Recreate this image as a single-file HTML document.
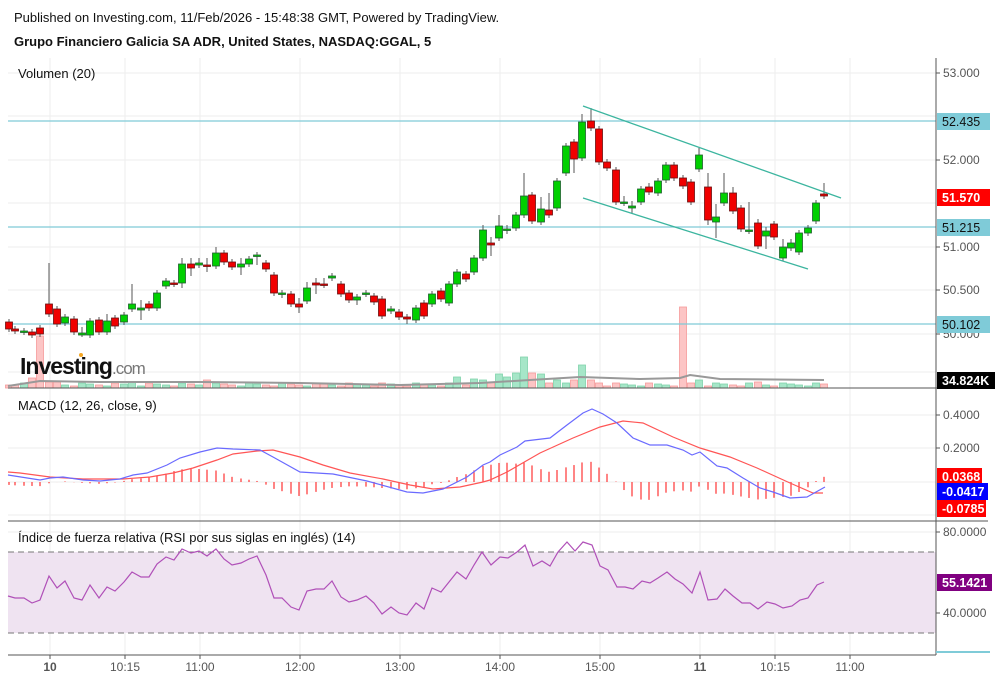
<!DOCTYPE html>
<html><head><meta charset="utf-8"><style>
body{margin:0;background:#fff;width:995px;height:678px;overflow:hidden;font-family:"Liberation Sans",sans-serif}
svg text{font-family:"Liberation Sans",sans-serif}
</style></head><body>
<svg id="s" width="995" height="678" xmlns="http://www.w3.org/2000/svg">
<text x="14" y="22" font-size="13" fill="#111">Published on Investing.com, 11/Feb/2026 - 15:48:38 GMT, Powered by TradingView.</text>
<text x="14" y="46" font-size="13" font-weight="bold" fill="#111">Grupo Financiero Galicia SA ADR, United States, NASDAQ:GGAL, 5</text>
<g id="grid" stroke="#eeeeee" stroke-width="1"></g>
<rect x="8" y="552" width="928" height="81" fill="#efe3f1"/>
<line x1="8" y1="552" x2="936" y2="552" stroke="#777" stroke-dasharray="6,4"/>
<line x1="8" y1="633" x2="936" y2="633" stroke="#777" stroke-dasharray="6,4"/>
<g id="vol"></g>
<g id="main"></g>
<g id="macd"></g>
<g id="rsi"></g>
<text x="18" y="78" font-size="13" fill="#111">Volumen (20)</text>
<text x="18" y="410" font-size="13" fill="#111">MACD (12, 26, close, 9)</text>
<text x="18" y="542" font-size="13" fill="#111">Índice de fuerza relativa (RSI por sus siglas en inglés) (14)</text>
<text x="20" y="374" font-size="23" font-weight="bold" fill="#111" letter-spacing="-1">Investing<tspan font-weight="normal" font-size="17" fill="#777">.com</tspan></text>
<circle cx="81" cy="355" r="2" fill="#f5a623"/>
<line x1="8" y1="388" x2="988" y2="388" stroke="#555"/>
<line x1="8" y1="521" x2="988" y2="521" stroke="#555"/>
<line x1="8" y1="655" x2="936" y2="655" stroke="#555"/>
<line x1="936" y1="58" x2="936" y2="655" stroke="#555"/>
<line x1="936" y1="652" x2="990" y2="652" stroke="#7fcbd8" stroke-width="2"/>
<g id="ax" font-size="12" fill="#555"></g>
<g id="xl" font-size="12" fill="#555" text-anchor="middle"></g>
</svg>
<script>
const NS="http://www.w3.org/2000/svg";
function el(p,t,a,txt){const e=document.createElementNS(NS,t);for(const k in a)e.setAttribute(k,a[k]);if(txt!=null)e.textContent=txt;document.getElementById(p).appendChild(e);return e;}
[50,125,200,300,400,500,600,700,775,850].forEach(x=>el('grid','line',{x1:x,y1:58,x2:x,y2:655}));
[73,116,160,203,247,290,334,372,415,448,482,515,532,572,613].forEach(y=>el('grid','line',{x1:8,y1:y,x2:936,y2:y}));
[[121],[227],[324]].forEach(a=>el('main','line',{x1:8,y1:a[0],x2:936,y2:a[0],stroke:'#7fcbd8','stroke-width':1.3}));
const C=[[9,322,329,'r'],[15,329,331,'r'],[24,331,332,'g'],[32,332,335,'r'],[40,328,334,'r'],[49,304,314,'r',263],[57,309,324,'r'],[65,317,323,'g'],[74,319,332,'r'],[82,333,335,'g',327,337],[90,321,335,'g'],[99,320,332,'r'],[107,321,332,'g',314],[115,318,326,'r'],[124,315,322,'g'],[132,304,309,'g',284],[141,308,310,'g',300,320],[149,304,308,'r'],[157,293,308,'g'],[166,281,286,'g'],[174,283,284,'r'],[182,264,283,'g',258,288],[191,264,268,'r',258,276],[199,263,265,'g',258],[207,265,266,'r',258,272],[216,253,266,'g',247],[224,253,262,'r'],[232,262,267,'r'],[241,264,267,'g',258,275],[249,259,264,'g'],[257,255,256,'g',252,265],[266,263,269,'r'],[274,275,293,'r'],[282,293,294,'g',290,298],[291,294,304,'r'],[299,304,307,'r',298,313],[307,288,301,'g',282],[316,283,285,'r',278,294],[324,284,285,'r',278],[332,276,278,'g',273],[341,284,294,'r'],[349,293,300,'r'],[357,297,300,'g',294,305],[366,293,294,'g',290,297],[374,296,302,'r'],[382,299,316,'r'],[391,309,311,'g'],[399,312,317,'r'],[407,317,319,'r',314,324],[416,308,320,'g'],[424,303,316,'r'],[432,294,304,'g'],[441,291,299,'r'],[449,284,303,'g'],[457,272,284,'g'],[466,274,279,'r'],[474,258,272,'g'],[483,230,258,'g',225],[491,243,245,'r',237,256],[499,226,238,'g',215],[507,229,230,'g',225,234],[516,215,228,'g'],[524,196,215,'g',173],[532,195,221,'r'],[541,209,222,'g',197],[549,210,215,'r',193],[557,181,208,'g'],[566,146,173,'g'],[574,142,159,'r',139,173],[582,122,158,'g',114],[591,121,128,'r',108],[599,129,162,'r'],[607,162,168,'r'],[616,170,202,'r'],[624,202,203,'g',196],[632,206,208,'g',201,213],[641,189,202,'g'],[649,187,192,'r',183],[658,181,193,'g'],[666,165,180,'g'],[674,165,178,'r'],[683,178,186,'r'],[691,182,202,'r'],[699,155,169,'g',148],[708,187,220,'r',173,225],[716,217,222,'g',204,238],[724,193,203,'g',173],[733,193,211,'r',187],[741,208,229,'r'],[749,230,231,'g',202],[758,223,246,'r',219],[766,231,236,'g',227,249],[774,224,237,'r'],[783,247,258,'g',239],[791,243,248,'g',239],[799,233,252,'g'],[808,228,233,'g'],[816,203,221,'g'],[824,194,196,'r',183]];
C.forEach(c=>{const [x,t,b,col]=c;const wt=c[4]||t-3,wb=c[5]||b+3;
 el('main','line',{x1:x,y1:wt,x2:x,y2:wb,stroke:'#555'});
 el('main','rect',{x:x-3.5,y:t,width:7,height:Math.max(1.5,b-t),fill:col=='g'?'#00d000':'#f00000',stroke:col=='g'?'#1e5e2e':'#6b1010','stroke-width':0.8});});
el('main','line',{x1:583,y1:106,x2:841,y2:198,stroke:'#3cb59f','stroke-width':1.3});
el('main','line',{x1:583,y1:198,x2:808,y2:269,stroke:'#3cb59f','stroke-width':1.3});
const VO={9:385,15:385,24:383,32:378,40:336,49:382,57:382,90:384,132:382,207:380,457:377,474:379,483:380,491:382,499:374,507:377,516:373,524:357,532:373,541:374,557:380,566:383,574:380,582:365,591:380,599:383,683:307,691:383,699:380,758:382};
C.forEach((c,i)=>{const x=c[0];let t=VO[x]||(386-((i*7)%4));
 const g=c[3]=='g';el('vol','rect',{x:x-3.5,y:t,width:7,height:388-t,fill:g?'#a6e6c8':'#fcc5c5',stroke:g?'#7fd3ab':'#f59a9a','stroke-width':0.8});});
el('vol','polyline',{points:'8,386 40,381 100,382 200,382 300,383 400,385 480,383 530,380 580,377 640,379 680,378 690,375 720,379 824,380',fill:'none',stroke:'#999','stroke-width':2});
const B=[[8,475],[40,480],[50,478],[63,477],[83,480],[100,481],[120,479],[133,475],[147,473],[167,465],[180,458],[200,452],[217,448],[233,449],[260,450],[273,457],[300,472],[333,474],[367,481],[407,492],[423,493],[443,489],[467,477],[483,465],[490,462],[500,455],[517,447],[525,441],[550,438],[567,425],[583,413],[592,409],[603,414],[617,423],[633,438],[650,445],[667,445],[683,450],[692,455],[700,452],[717,466],[727,468],[743,478],[760,488],[773,492],[790,498],[807,497],[825,487]];
const R=[[8,472],[20,473],[50,477],[83,479],[123,479],[150,477],[173,473],[193,468],[217,460],[233,454],[257,451],[273,450],[300,457],[323,465],[350,473],[383,479],[410,485],[433,489],[460,487],[483,482],[490,480],[507,472],[540,453],[573,438],[600,427],[623,421],[643,423],[673,437],[700,448],[730,457],[757,468],[790,483],[813,493],[823,493]];
function interp(a,x){for(let i=0;i<a.length-1;i++){if(x>=a[i][0]&&x<=a[i+1][0]){const f=(x-a[i][0])/(a[i+1][0]-a[i][0]);return a[i][1]+f*(a[i+1][1]-a[i][1]);}}return a[a.length-1][1];}
C.forEach(c=>{const x=c[0];const d=(interp(R,x)-interp(B,x))*0.95;el('macd','line',{x1:x,y1:482,x2:x,y2:482-d,stroke:'#f33','stroke-width':1.2});});
el('macd','polyline',{points:R.map(p=>p.join(',')).join(' '),fill:'none',stroke:'#f55','stroke-width':1.2});
el('macd','polyline',{points:B.map(p=>p.join(',')).join(' '),fill:'none',stroke:'#6a6aff','stroke-width':1.2});
const RS='8,596 15,598 24,598 32,603 40,600 49,576 57,588 65,581 74,598 82,600 90,585 99,598 107,587 115,591 124,582 132,572 141,577 149,577 157,564 166,557 174,560 182,549 191,553 199,551 207,556 216,549 224,559 232,565 241,563 249,559 257,556 266,575 274,598 282,598 291,607 299,610 307,591 316,589 324,589 332,581 341,597 349,602 357,600 366,596 374,603 382,614 391,607 399,613 407,615 416,603 424,609 432,588 441,592 449,582 457,572 466,579 474,565 482,552 491,565 500,557 508,558 517,552 525,545 533,566 542,561 550,566 558,552 567,542 575,551 583,542 592,545 600,566 608,570 617,587 625,587 633,589 642,581 650,583 658,578 667,572 675,579 683,584 692,593 700,572 708,600 717,599 725,589 733,596 742,603 750,603 758,609 767,602 775,604 783,608 792,606 800,600 808,598 817,585 824,582';
el('rsi','polyline',{points:RS,fill:'none',stroke:'#b050b8','stroke-width':1.2});
[[73,'53.000'],[160,'52.000'],[247,'51.000'],[290,'50.500'],[334,'50.000'],[415,'0.4000'],[448,'0.2000'],[532,'80.0000'],[613,'40.0000']].forEach(a=>{el('ax','line',{x1:936,y1:a[0],x2:940,y2:a[0],stroke:'#555'});el('ax','text',{x:943,y:a[0]+4},a[1]);});
function box(y,txt,bg,fg,w){el('ax','rect',{x:937,y:y-8,width:w||53,height:17,fill:bg});el('ax','text',{x:942,y:y+5,fill:fg,'font-weight':(fg=='#fff'?'bold':'normal'),'font-size':12.5},txt);}
box(121,'52.435','#7fcbd8','#111');box(197,'51.570','#f00','#fff');box(227,'51.215','#7fcbd8','#111');box(324,'50.102','#7fcbd8','#111');
box(380,'34.824K','#000','#fff',61);box(476,'0.0368','#f00','#fff',45);box(491,'-0.0417','#00f','#fff',51);box(508,'-0.0785','#f00','#fff',49);box(582,'55.1421','#800080','#fff',55);
[[50,'10',1],[125,'10:15'],[200,'11:00'],[300,'12:00'],[400,'13:00'],[500,'14:00'],[600,'15:00'],[700,'11',1],[775,'10:15'],[850,'11:00']].forEach(a=>{el('xl','line',{x1:a[0],y1:655,x2:a[0],y2:659,stroke:'#555'});el('xl','text',{x:a[0],y:671,'font-weight':a[2]?'bold':'normal'},a[1]);});
</script>
</body></html>
